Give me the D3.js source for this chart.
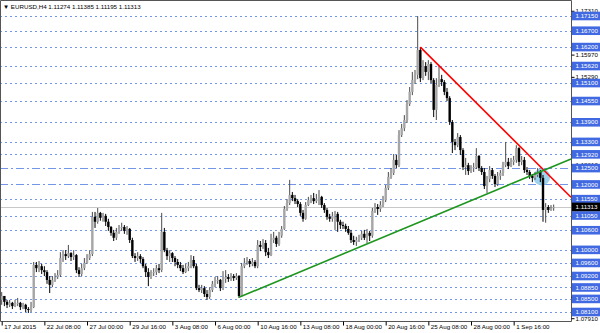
<!DOCTYPE html>
<html>
<head>
<meta charset="utf-8">
<script src="https://cdn.jsdelivr.net/npm/d3@7"></script>
<style>
  body { margin: 0; background: #fff; }
  svg { display: block; font-family: "Liberation Sans", Arial, sans-serif; }
</style>
</head>
<body>
<svg id="chart" width="600" height="333"></svg>
<script>
// EURUSD H4, 17 Jul - 3 Sep 2015
var symbolTitle = "EURUSD,H4";
var lastQuote = ["1.11274", "1.11385", "1.11195", "1.11313"];
var firstOpen = 1.0847;

var closes = [
  1.0859, 1.0841, 1.0832, 1.0838, 1.0828, 1.0835, 1.0838, 1.0825, 1.0832, 1.0819,
  1.0816, 1.0825, 1.0954, 1.0944, 1.0950, 1.0938, 1.0932, 1.0908, 1.0893, 1.0908,
  1.0917, 1.0923, 1.0975, 1.0987, 1.0981, 1.0990, 1.0978, 1.0984, 1.0938, 1.0926,
  1.0944, 1.0960, 1.0975, 1.0987, 1.1101, 1.1086, 1.1113, 1.1098, 1.1104, 1.1086,
  1.1070, 1.1052, 1.1037, 1.1055, 1.1067, 1.1070, 1.1058, 1.1064, 1.1030, 1.0981,
  1.0975, 1.0981, 1.0972, 1.0950, 1.0932, 1.0917, 1.0929, 1.0932, 1.0944, 1.0938,
  1.1055, 1.0999, 1.0981, 1.0990, 1.0975, 1.0963, 1.0954, 1.0944, 1.0932, 1.0944,
  1.0950, 1.0969, 1.0950, 1.0883, 1.0877, 1.0883, 1.0865, 1.0856, 1.0877, 1.0896,
  1.0905, 1.0908, 1.0883, 1.0911, 1.0917, 1.0911, 1.0920, 1.0914, 1.0920, 1.0859,
  1.0950, 1.0960, 1.0966, 1.0957, 1.0963, 1.0950, 1.1015, 1.1009, 1.1021, 1.0993,
  1.0984, 1.1030, 1.1037, 1.1018, 1.1043, 1.1064, 1.1125, 1.1143, 1.1168, 1.1158,
  1.1149, 1.1140, 1.1113, 1.1095, 1.1137, 1.1152, 1.1158, 1.1149, 1.1155, 1.1162,
  1.1137, 1.1122, 1.1101, 1.1095, 1.1104, 1.1110, 1.1086, 1.1076, 1.1073, 1.1064,
  1.1052, 1.1030, 1.1024, 1.1030, 1.1037, 1.1049, 1.1037, 1.1052, 1.1043, 1.1119,
  1.1131, 1.1125, 1.1137, 1.1152, 1.1189, 1.1223, 1.1235, 1.1275, 1.1259, 1.1351,
  1.1372, 1.1397, 1.1446, 1.1483, 1.1519, 1.1535, 1.1611, 1.1525, 1.1562, 1.1544,
  1.1568, 1.1519, 1.1428, 1.1504, 1.1522, 1.1513, 1.1483, 1.1464, 1.1391, 1.1330,
  1.1320, 1.1345, 1.1305, 1.1253, 1.1259, 1.1241, 1.1250, 1.1253, 1.1287, 1.1250,
  1.1238, 1.1195, 1.1217, 1.1244, 1.1226, 1.1201, 1.1226, 1.1235, 1.1259, 1.1269,
  1.1256, 1.1269, 1.1275, 1.1311, 1.1269, 1.1275, 1.1244, 1.1238, 1.1226, 1.1220,
  1.1229, 1.1238, 1.1220, 1.1122, 1.1131, 1.1122, 1.11274, 1.11313
];

var highs = [
  1.0871, 1.0859, 1.0847, 1.0847, 1.0841, 1.0847, 1.0853, 1.0841, 1.0838, 1.0835,
  1.0825, 1.0841, 1.0963, 1.0963, 1.0966, 1.0957, 1.0950, 1.0938, 1.0920, 1.0920,
  1.0929, 1.0938, 1.0993, 1.0999, 1.0999, 1.1015, 1.0993, 1.0999, 1.0987, 1.0947,
  1.0957, 1.0975, 1.0987, 1.0999, 1.1116, 1.1116, 1.1128, 1.1116, 1.1113, 1.1110,
  1.1095, 1.1073, 1.1061, 1.1067, 1.1076, 1.1083, 1.1076, 1.1073, 1.1067, 1.1037,
  1.0990, 1.0993, 1.0987, 1.0978, 1.0957, 1.0944, 1.0938, 1.0944, 1.0954, 1.0957,
  1.1113, 1.1067, 1.1006, 1.0999, 1.0993, 1.0981, 1.0972, 1.0963, 1.0954, 1.0957,
  1.0963, 1.0984, 1.0981, 1.0957, 1.0893, 1.0893, 1.0889, 1.0877, 1.0886, 1.0905,
  1.0917, 1.0920, 1.0911, 1.0935, 1.0938, 1.0926, 1.0929, 1.0926, 1.0929, 1.0923,
  1.0960, 1.0975, 1.0978, 1.0972, 1.0975, 1.0969, 1.1030, 1.1027, 1.1033, 1.1030,
  1.1006, 1.1049, 1.1055, 1.1043, 1.1055, 1.1073, 1.1134, 1.1155, 1.1214, 1.1177,
  1.1168, 1.1155, 1.1146, 1.1122, 1.1146, 1.1162, 1.1168, 1.1174, 1.1171, 1.1183,
  1.1165, 1.1143, 1.1128, 1.1110, 1.1116, 1.1119, 1.1116, 1.1092, 1.1086, 1.1080,
  1.1073, 1.1061, 1.1043, 1.1040, 1.1046, 1.1058, 1.1061, 1.1064, 1.1058, 1.1128,
  1.1143, 1.1140, 1.1149, 1.1165, 1.1198, 1.1238, 1.1250, 1.1293, 1.1290, 1.1366,
  1.1385, 1.1412, 1.1458, 1.1498, 1.1544, 1.1550, 1.1715, 1.1620, 1.1580, 1.1574,
  1.1580, 1.1574, 1.1525, 1.1525, 1.1562, 1.1535, 1.1519, 1.1495, 1.1470, 1.1397,
  1.1339, 1.1357, 1.1351, 1.1311, 1.1281, 1.1266, 1.1259, 1.1266, 1.1311, 1.1290,
  1.1256, 1.1250, 1.1226, 1.1256, 1.1250, 1.1232, 1.1238, 1.1244, 1.1269, 1.1330,
  1.1281, 1.1281, 1.1287, 1.1320, 1.1314, 1.1287, 1.1284, 1.1253, 1.1244, 1.1232,
  1.1238, 1.1250, 1.1244, 1.1229, 1.1143, 1.1137, 1.1137, 1.11385
];

var lows = [
  1.0832, 1.0828, 1.0822, 1.0825, 1.0819, 1.0825, 1.0828, 1.0816, 1.0819, 1.0810,
  1.0807, 1.0810, 1.0822, 1.0932, 1.0932, 1.0926, 1.0920, 1.0896, 1.0868, 1.0886,
  1.0902, 1.0911, 1.0917, 1.0963, 1.0969, 1.0975, 1.0966, 1.0969, 1.0929, 1.0917,
  1.0920, 1.0938, 1.0957, 1.0969, 1.0981, 1.1067, 1.1080, 1.1089, 1.1086, 1.1073,
  1.1058, 1.1043, 1.1027, 1.1030, 1.1049, 1.1058, 1.1049, 1.1046, 1.1021, 1.0975,
  1.0963, 1.0966, 1.0960, 1.0944, 1.0917, 1.0889, 1.0911, 1.0920, 1.0923, 1.0929,
  1.0932, 1.0993, 1.0969, 1.0963, 1.0963, 1.0950, 1.0944, 1.0935, 1.0926, 1.0929,
  1.0935, 1.0944, 1.0944, 1.0877, 1.0871, 1.0868, 1.0856, 1.0847, 1.0850, 1.0871,
  1.0886, 1.0896, 1.0874, 1.0877, 1.0899, 1.0902, 1.0905, 1.0905, 1.0908, 1.0853,
  1.0856, 1.0944, 1.0954, 1.0947, 1.0950, 1.0944, 1.0944, 1.0996, 1.1003, 1.0981,
  1.0975, 1.0981, 1.1021, 1.1009, 1.1012, 1.1037, 1.1061, 1.1119, 1.1137, 1.1149,
  1.1140, 1.1131, 1.1104, 1.1086, 1.1092, 1.1134, 1.1143, 1.1140, 1.1143, 1.1137,
  1.1128, 1.1113, 1.1092, 1.1086, 1.1086, 1.1061, 1.1055, 1.1064, 1.1064, 1.1055,
  1.1046, 1.1021, 1.1015, 1.1012, 1.1024, 1.1030, 1.1030, 1.1021, 1.1027, 1.1037,
  1.1113, 1.1107, 1.1116, 1.1131, 1.1146, 1.1183, 1.1217, 1.1229, 1.1250, 1.1253,
  1.1345, 1.1363, 1.1388, 1.1440, 1.1473, 1.1507, 1.1522, 1.1513, 1.1519, 1.1532,
  1.1519, 1.1510, 1.1406, 1.1397, 1.1498, 1.1501, 1.1473, 1.1455, 1.1382, 1.1296,
  1.1305, 1.1314, 1.1290, 1.1244, 1.1229, 1.1229, 1.1235, 1.1238, 1.1247, 1.1241,
  1.1229, 1.1186, 1.1174, 1.1207, 1.1217, 1.1192, 1.1195, 1.1214, 1.1226, 1.1253,
  1.1247, 1.1253, 1.1259, 1.1266, 1.1256, 1.1259, 1.1235, 1.1229, 1.1217, 1.1207,
  1.1214, 1.1223, 1.1207, 1.1086, 1.1083, 1.1113, 1.1119, 1.11195
];

var timeTickIndex = [0, 16, 32, 48, 64, 80, 96, 112, 128, 144, 160, 176, 192];
var timeTickLabels = ["17 Jul 2015", "22 Jul 08:00", "27 Jul 00:00", "29 Jul 16:00",
  "3 Aug 08:00", "6 Aug 00:00", "10 Aug 16:00", "13 Aug 08:00", "18 Aug 00:00",
  "20 Aug 16:00", "25 Aug 08:00", "28 Aug 00:00", "1 Sep 16:00"];

// horizontal level lines drawn on the chart
var levelLines = [1.17150, 1.16700, 1.16200, 1.15620, 1.15100, 1.14550, 1.13900, 1.13300,
  1.12920, 1.12500, 1.12000, 1.11550, 1.11050, 1.10600, 1.10000, 1.09600, 1.09200,
  1.08850, 1.08500, 1.08100];
var dashDotLevels = [1.12500, 1.12000];

// price scale ticks still visible between the level labels
var scaleTicks = [1.17310, 1.15970, 1.15290, 1.14630, 1.12610, 1.08570, 1.07910];

// trend lines: [bar index, price]
var redLine = [[157, 1.1620], [213.5, 1.1161]];
var greenLine = [[89, 1.0855], [213.5, 1.1278]];
var markerPoint = [202.5, 1.1223];

var plotR = 571, plotB = 321;
var svg = d3.select("#chart");

var x = d3.scaleLinear().domain([0, 213.5]).range([1.7, plotR]);
var y = d3.scaleLinear().domain([1.0810, 1.1715]).range([312, 16]);

var bars = closes.map(function(c, i) {
  return { i: i, o: i ? closes[i - 1] : firstOpen, c: c, h: highs[i], l: lows[i] };
});

var plot = svg.append("g");

// level lines
plot.selectAll(".lvl")
  .data(levelLines)
  .enter()
  .append("line")
  .attr("x1", 0).attr("x2", plotR)
  .attr("y1", function(d) { return Math.round(y(d)) + 0.5; })
  .attr("y2", function(d) { return Math.round(y(d)) + 0.5; })
  .attr("stroke", "#7396e8")
  .attr("stroke-width", 1)
  .attr("stroke-dasharray", function(d) { return dashDotLevels.indexOf(d) >= 0 ? "8,3,2,3" : "2,3"; });

// bid line
var bid = +lastQuote[3];
plot.append("line")
  .attr("x1", 0).attr("x2", plotR)
  .attr("y1", Math.round(y(bid)) + 0.5).attr("y2", Math.round(y(bid)) + 0.5)
  .attr("stroke", "#c8c8c8");

// highlight circle
plot.append("circle")
  .attr("cx", x(markerPoint[0]))
  .attr("cy", y(markerPoint[1]))
  .attr("r", 8.5)
  .attr("fill", "#8ccbea")
  .attr("opacity", 0.85);

// candles
var candle = plot.selectAll(".candle")
  .data(bars)
  .enter()
  .append("g");

candle.append("line")
  .attr("x1", function(d) { return x(d.i); })
  .attr("x2", function(d) { return x(d.i); })
  .attr("y1", function(d) { return y(d.h); })
  .attr("y2", function(d) { return y(d.l); })
  .attr("stroke", function(d) { return d.c >= d.o ? "#4a4a4a" : "#000"; })
  .attr("stroke-width", 1);

candle.append("rect")
  .attr("x", function(d) { return x(d.i) - 1.2; })
  .attr("width", 2.4)
  .attr("y", function(d) { return y(Math.max(d.o, d.c)); })
  .attr("height", function(d) { return Math.max(0.8, Math.abs(y(d.o) - y(d.c))); })
  .attr("fill", function(d) { return d.c >= d.o ? "#a6a6a6" : "#000"; });

// trend lines
[[redLine, "#ff0000"], [greenLine, "#1e961e"]].forEach(function(t) {
  plot.append("line")
    .attr("x1", x(t[0][0][0])).attr("y1", y(t[0][0][1]))
    .attr("x2", x(t[0][1][0])).attr("y2", y(t[0][1][1]))
    .attr("stroke", t[1])
    .attr("stroke-width", 1.6);
});

// frame
svg.append("path")
  .attr("d", "M0.5,0.5V" + (plotB + 0.5) + "H" + (plotR + 0.5) + "V0.5Z")
  .attr("fill", "none")
  .attr("stroke", "#555")
  .attr("stroke-width", 1);

// price scale
var yAxis = d3.axisRight(y)
  .tickValues(scaleTicks)
  .tickSize(3)
  .tickPadding(1)
  .tickFormat(d3.format(".5f"));

var ya = svg.append("g")
  .attr("transform", "translate(" + (plotR + 0.5) + ",0)")
  .call(yAxis);
ya.select(".domain").remove();
ya.selectAll("text").attr("font-size", "6.2px").attr("font-family", "Liberation Sans, Arial, sans-serif").attr("fill", "#000");
ya.selectAll("line").attr("stroke", "#000");

// level labels
var lbl = svg.selectAll(".lvlLabel")
  .data(levelLines)
  .enter()
  .append("g")
  .attr("transform", function(d) { return "translate(" + (plotR + 1) + "," + y(d) + ")"; });
lbl.append("rect")
  .attr("x", 0).attr("y", -4.3)
  .attr("width", 29).attr("height", 8.6)
  .attr("fill", "#4169e1");
lbl.append("text")
  .attr("x", 3.5).attr("dy", "0.35em")
  .attr("font-size", "6.2px")
  .attr("fill", "#fff")
  .text(function(d) { return d.toFixed(5); });

// bid label
var bl = svg.append("g").attr("transform", "translate(" + (plotR + 1) + "," + y(bid) + ")");
bl.append("rect").attr("x", 0).attr("y", -4.3).attr("width", 29).attr("height", 8.6).attr("fill", "#000");
bl.append("text").attr("x", 3.5).attr("dy", "0.35em").attr("font-size", "6.2px").attr("fill", "#fff").text(lastQuote[3]);

// time axis
var xAxis = d3.axisBottom(x)
  .tickValues(timeTickIndex)
  .tickSize(4)
  .tickFormat(function(d, i) { return timeTickLabels[i]; });

var xa = svg.append("g")
  .attr("transform", "translate(0," + (plotB + 0.5) + ")")
  .call(xAxis);
xa.select(".domain").remove();
xa.selectAll("line").attr("stroke", "#000");
xa.selectAll("text")
  .attr("text-anchor", "start")
  .attr("x", 2)
  .attr("y", 3)
  .attr("font-size", "6.2px")
  .attr("font-family", "Liberation Sans, Arial, sans-serif")
  .attr("fill", "#000");

// header
svg.append("text")
  .attr("x", 3).attr("y", 9)
  .attr("font-size", "6.2px")
  .attr("fill", "#000")
  .text("\u25BC " + symbolTitle + "  " + lastQuote.join(" "));
</script>
</body>
</html>
